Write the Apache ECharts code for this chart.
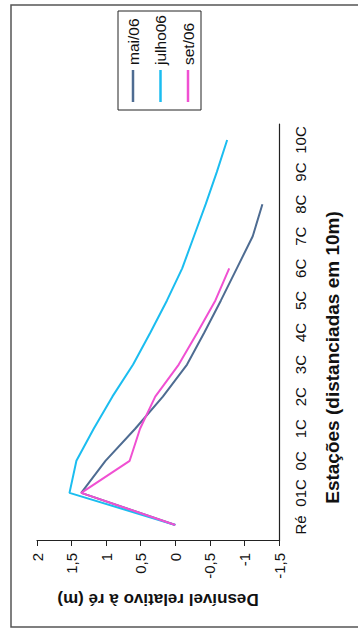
<!DOCTYPE html>
<html>
<head>
<meta charset="utf-8">
<script src="https://cdn.jsdelivr.net/npm/echarts@6/dist/echarts.min.js"></script>
<style>
html,body{margin:0;padding:0;background:#fff;overflow:hidden;width:358px;height:630px;}
#wrap{position:absolute;left:0;top:0;width:630px;height:358px;transform-origin:0 0;transform:translateY(630px) rotate(-90deg);}
</style>
</head>
<body>
<div id="wrap"></div>
<script>
const categories = ['Ré','01C','0C','1C','2C','3C','4C','5C','6C','7C','8C','9C','10C'];
const mai06   = [0, 1.36, 1.01, 0.58, 0.18, -0.17, -0.42, -0.66, -0.89, -1.12, -1.26, null, null];
const julho06 = [0, 1.53, 1.43, 1.18, 0.91, 0.61, 0.36, 0.12, -0.10, -0.27, -0.44, -0.60, -0.75];
const set06   = [0, 1.36, 0.66, 0.51, 0.29, -0.05, -0.32, -0.58, -0.78, null, null, null, null];
const yTickValues = [-1.5, -1, -0.5, 0, 0.5, 1, 1.5, 2];
const yTickLabels = ['-1,5', '-1', '-0,5', '0', '0,5', '1', '1,5', '2'];
const seriesNames = ['mai/06', 'julho06', 'set/06'];

const FONT = "'Liberation Sans', Arial, sans-serif";
const chart = echarts.init(document.getElementById('wrap'), null, {renderer: 'svg', width: 630, height: 358});
chart.setOption({
  animation: false,
  backgroundColor: '#fff',
  textStyle: {fontFamily: FONT},
  graphic: [{
    type: 'rect', shape: {x: 3, y: 11, width: 622, height: 420},
    style: {fill: 'none', stroke: '#555', lineWidth: 1.5}, silent: true
  }],
  legend: {
    orient: 'vertical', left: 520, top: 118,
    borderColor: '#222', borderWidth: 1,
    padding: [7, 4, 5, 8],
    itemGap: 11.5, itemWidth: 32, itemHeight: 2.5,
    icon: 'rect',
    textStyle: {fontSize: 15.5, color: '#111', fontFamily: FONT, lineHeight: 16},
    data: seriesNames
  },
  grid: {left: 89, right: 124, top: 37, bottom: 79},
  xAxis: [{
    type: 'category', data: categories, boundaryGap: true,
    axisLine: {onZero: false, lineStyle: {color: '#222', width: 1.2}},
    axisTick: {inside: true, length: 4, lineStyle: {color: '#222'}},
    axisLabel: {color: '#111', fontSize: 15, margin: 14, interval: 0, fontFamily: FONT},
    name: 'Estações (distanciadas em 10m)', nameLocation: 'middle', nameGap: 44,
    nameTextStyle: {fontWeight: 'bold', fontSize: 19, color: '#111', fontFamily: FONT, padding: [0, 50, 0, 0]}
  }, {
    type: 'category', data: categories, boundaryGap: true, position: 'bottom',
    axisLine: {show: false, onZero: false},
    axisTick: {inside: true, length: 4, alignWithLabel: true, lineStyle: {color: '#222'}},
    axisLabel: {show: false}
  }],
  yAxis: {
    type: 'value', min: -1.5, max: 2, interval: 0.5,
    axisLine: {show: true, lineStyle: {color: '#222', width: 1.2}},
    axisTick: {show: true, length: 5, lineStyle: {color: '#222'}},
    splitLine: {show: false},
    axisLabel: {
      color: '#111', fontSize: 15, margin: 12, fontFamily: FONT,
      formatter: v => { const i = yTickValues.findIndex(t => Math.abs(t - v) < 1e-9); return i >= 0 ? yTickLabels[i] : ''; }
    },
    name: 'Desnível relativo à ré (m)', nameLocation: 'middle', nameGap: 50, nameRotate: 90,
    nameTextStyle: {fontWeight: 'bold', fontSize: 17, color: '#111', fontFamily: FONT}
  },
  series: [
    {name: seriesNames[0], type: 'line', data: mai06, symbol: 'none', color: '#4e6c92', lineStyle: {width: 2}},
    {name: seriesNames[1], type: 'line', data: julho06, symbol: 'none', color: '#1bbdf0', lineStyle: {width: 2}},
    {name: seriesNames[2], type: 'line', data: set06, symbol: 'none', color: '#f050d2', lineStyle: {width: 2}}
  ]
});
</script>
</body>
</html>
